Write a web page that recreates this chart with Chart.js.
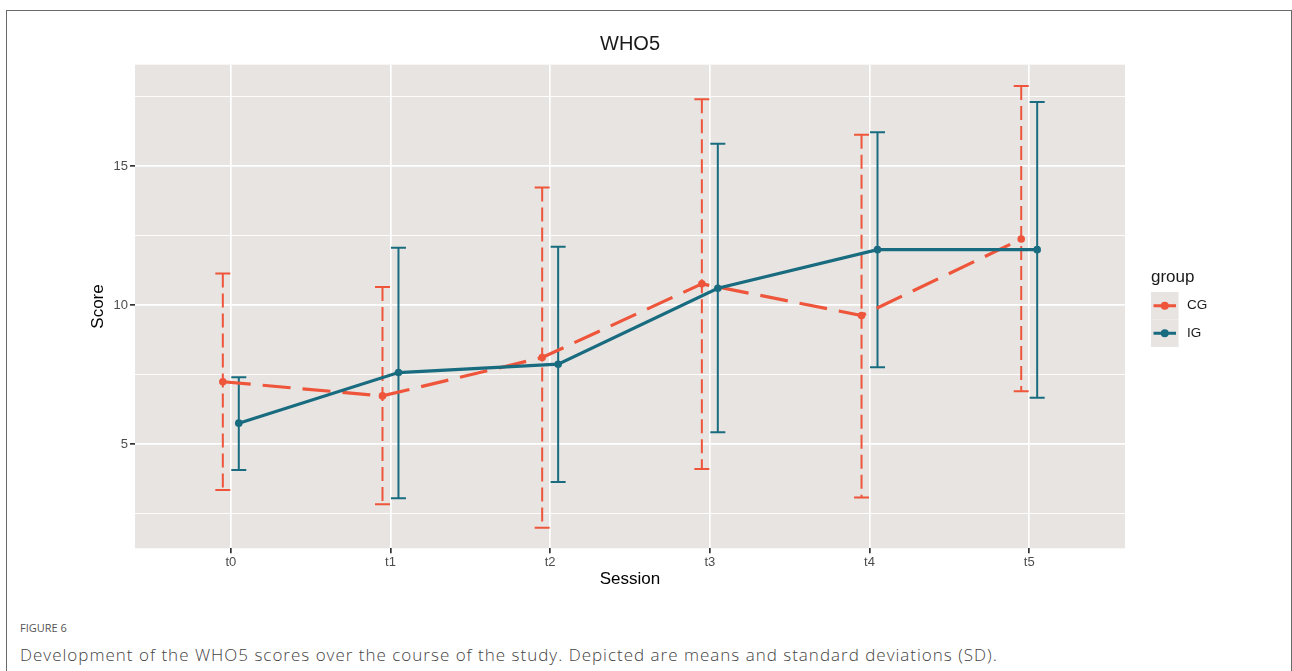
<!DOCTYPE html>
<html>
<head>
<meta charset="utf-8">
<script src="https://cdn.jsdelivr.net/npm/chart.js@4.4.1/dist/chart.umd.min.js"></script>
<style>
  html, body { margin: 0; padding: 0; background: #fff; }
  body { width: 1292px; height: 671px; position: relative; overflow: hidden; }
  #frame { position: absolute; left: 6px; top: 10px; width: 1286px; height: 700px; box-sizing: border-box;
           border-left: 1px solid #6a6a6a; border-top: 1px solid #6a6a6a; border-right: 1px solid #6a6a6a; }
  #wrap { position: absolute; left: 0; top: 0; width: 1292px; height: 600px; }
  #cap1 { position: absolute; left: 20px; top: 620px; font-family: "Open Sans", sans-serif; font-size: 11px;
          color: #555; white-space: nowrap; font-weight: 500; }
  #cap2 { position: absolute; left: 20px; top: 643px; font-family: "Open Sans", sans-serif; font-size: 17px;
          color: #444; white-space: nowrap; font-weight: 300; letter-spacing: 1px; }
</style>
</head>
<body>
<div id="frame"></div>
<div id="wrap"><canvas id="c" width="1292" height="600"></canvas></div>
<div id="cap1">FIGURE 6</div>
<div id="cap2">Development of the WHO5 scores over the course of the study. Depicted are means and standard deviations (SD).</div>
<script>
const TITLE = 'WHO5';
const X_TITLE = 'Session';
const Y_TITLE = 'Score';
const LEGEND_TITLE = 'group';
const SESSIONS = ['t0', 't1', 't2', 't3', 't4', 't5'];
const GROUPS = ['CG', 'IG'];
const CG_MEAN = [7.25, 6.74, 8.12, 10.77, 9.63, 12.38];
const CG_LOW  = [3.36, 2.84, 2.00, 4.11, 3.09, 6.91];
const CG_HIGH = [11.14, 10.66, 14.23, 17.41, 16.13, 17.88];
const IG_MEAN = [5.76, 7.58, 7.88, 10.61, 12.00, 12.00];
const IG_LOW  = [4.08, 3.06, 3.64, 5.43, 7.77, 6.67];
const IG_HIGH = [7.41, 12.07, 12.10, 15.81, 16.22, 17.31];
const Y_TICKS = [2.5, 5, 7.5, 10, 12.5, 15, 17.5];
const Y_LABELS = ['5', '10', '15'];

const CG_COLOR = '#EE553A';
const IG_COLOR = '#196C80';
const PANEL = '#E7E4E1';
const DODGE = 0.05;

const series = [
  { name: GROUPS[1], mean: IG_MEAN, low: IG_LOW, high: IG_HIGH, color: IG_COLOR, off: DODGE, dash: [], barDash: [] },
  { name: GROUPS[0], mean: CG_MEAN, low: CG_LOW, high: CG_HIGH, color: CG_COLOR, off: -DODGE, dash: [28, 12], barDash: [14, 6] }
];

const panelBg = {
  id: 'panelBg',
  beforeDraw(chart) {
    const { ctx, chartArea: a } = chart;
    ctx.save();
    ctx.fillStyle = PANEL;
    ctx.fillRect(a.left, a.top, a.right - a.left, a.bottom - a.top);
    ctx.restore();
  }
};

const errorBars = {
  id: 'errorBars',
  beforeDatasetsDraw(chart) {
    const { ctx, scales: { x, y } } = chart;
    ctx.save();
    ctx.beginPath();
    ctx.rect(chart.chartArea.left, chart.chartArea.top, chart.chartArea.right - chart.chartArea.left, chart.chartArea.bottom - chart.chartArea.top);
    ctx.clip();
    const cap = 7.5;
    [series[1], series[0]].forEach(s => {
      ctx.strokeStyle = s.color;
      ctx.lineWidth = 2;
      s.mean.forEach((m, i) => {
        const px = x.getPixelForValue(i + s.off);
        const pTop = y.getPixelForValue(s.high[i]);
        const pBot = y.getPixelForValue(s.low[i]);
        ctx.setLineDash(s.barDash);
        ctx.beginPath();
        ctx.moveTo(px, pTop);
        ctx.lineTo(px, pBot);
        ctx.stroke();
        ctx.setLineDash([]);
        ctx.beginPath();
        ctx.moveTo(px - cap, pTop); ctx.lineTo(px + cap, pTop);
        ctx.moveTo(px - cap, pBot); ctx.lineTo(px + cap, pBot);
        ctx.stroke();
      });
    });
    ctx.restore();
  }
};

const customLegend = {
  id: 'customLegend',
  afterDraw(chart) {
    const { ctx } = chart;
    ctx.save();
    ctx.textBaseline = 'middle';
    ctx.textAlign = 'left';
    ctx.fillStyle = '#1a1a1a';
    ctx.font = '17px "Liberation Sans", Arial, sans-serif';
    ctx.fillText(LEGEND_TITLE, 1151, 277);
    const kx = 1151, ky = 292, kw = 27.5, kh = 27.5;
    [series[1], series[0]].forEach((s, j) => {
      const top = ky + j * kh;
      ctx.fillStyle = PANEL;
      ctx.fillRect(kx, top, kw, kh);
      const cy = top + kh / 2;
      ctx.strokeStyle = s.color;
      ctx.lineWidth = 3;
      ctx.setLineDash([]);
      ctx.beginPath();
      ctx.moveTo(kx + 2.5, cy); ctx.lineTo(kx + kw - 2.5, cy);
      ctx.stroke();
      ctx.fillStyle = s.color;
      ctx.beginPath();
      ctx.arc(kx + kw / 2, cy, 4, 0, Math.PI * 2);
      ctx.fill();
      ctx.fillStyle = '#1a1a1a';
      ctx.font = '13.5px "Liberation Sans", Arial, sans-serif';
      ctx.fillText(s.name, 1187, cy);
    });
    ctx.restore();
  }
};

const datasets = series.map(s => ({
  label: s.name,
  data: s.mean.map((v, i) => ({ x: i + s.off, y: v })),
  borderColor: s.color,
  backgroundColor: s.color,
  borderWidth: 3.2,
  borderDash: s.dash,
  pointRadius: 3.8,
  pointBorderWidth: 0,
  pointBackgroundColor: s.color,
  tension: 0,
  fill: false
}));

const FONT = '"Liberation Sans", Arial, sans-serif';

new Chart(document.getElementById('c'), {
  type: 'line',
  data: { datasets },
  plugins: [panelBg, errorBars, customLegend],
  options: {
    responsive: false,
    animation: false,
    devicePixelRatio: 1,
    layout: { padding: { left: 88, right: 167, top: 32.6, bottom: 10.4 } },
    plugins: {
      legend: { display: false },
      tooltip: { enabled: false },
      title: {
        display: true, text: TITLE, fullSize: false,
        color: '#1a1a1a', font: { family: FONT, size: 20, weight: 'normal', lineHeight: 1.14 },
        padding: { top: 0, bottom: 9.3 }
      }
    },
    scales: {
      x: {
        type: 'linear', min: -0.6, max: 5.6,
        afterBuildTicks(scale) { scale.ticks = SESSIONS.map((s, i) => ({ value: i })); },
        afterFit(scale) { scale.height = 41.3; },
        ticks: {
          callback: (v) => SESSIONS[Math.round(v)],
          color: '#4D4D4D', font: { family: FONT, size: 13 }, padding: 1, maxRotation: 0, autoSkip: false
        },
        grid: { color: '#ffffff', lineWidth: 1.7, tickColor: '#333333', tickLength: 5 },
        border: { display: false },
        title: { display: true, text: X_TITLE, color: '#000', font: { family: FONT, size: 17 }, padding: 0 }
      },
      y: {
        type: 'linear', min: 1.26, max: 18.65,
        afterBuildTicks(scale) { scale.ticks = Y_TICKS.map(v => ({ value: v })); },
        afterFit(scale) { scale.width = 47; },
        ticks: {
          callback: (v) => (v % 5 === 0 ? Y_LABELS[v / 5 - 1] : ''),
          color: '#4D4D4D', font: { family: FONT, size: 13 }, padding: 2, autoSkip: false
        },
        grid: {
          color: '#ffffff',
          lineWidth: (c) => (c.tick && c.tick.value % 5 === 0 ? 1.7 : 0.9),
          tickColor: (c) => (c.tick && c.tick.value % 5 === 0 ? '#333333' : 'rgba(0,0,0,0)'),
          tickLength: 5
        },
        border: { display: false },
        title: { display: true, text: Y_TITLE, color: '#000', font: { family: FONT, size: 17 }, padding: 0 }
      }
    }
  }
});
</script>
</body>
</html>
